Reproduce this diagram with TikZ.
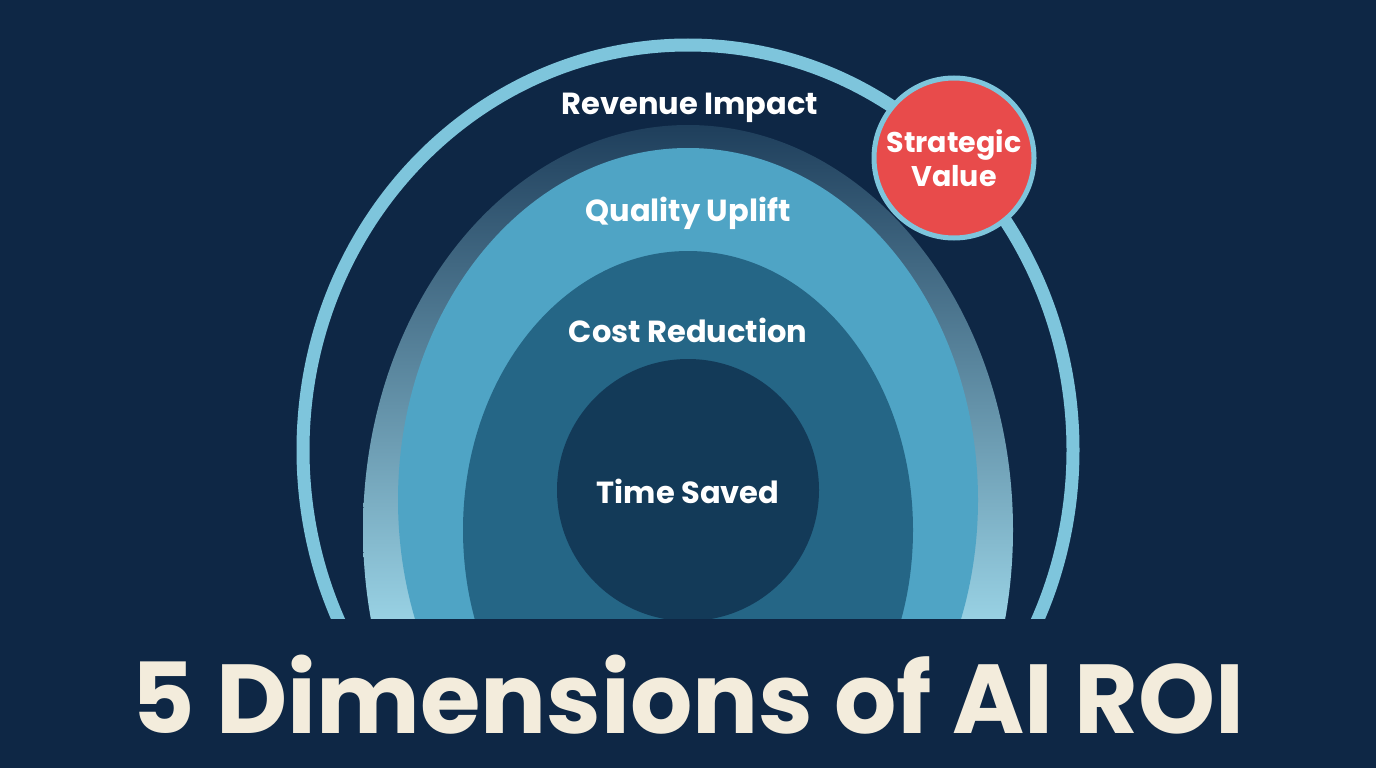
\documentclass[tikz,border=0pt]{standalone}
\usepackage{fontspec}
\setmainfont{Poppins}
\definecolor{navy}{HTML}{0E2745}
\definecolor{ringblue}{HTML}{7EC5DC}
\definecolor{qualblue}{HTML}{4FA4C5}
\definecolor{costblue}{HTML}{256686}
\definecolor{timeblue}{HTML}{133A58}
\definecolor{stratred}{HTML}{E84B4B}
\definecolor{cream}{HTML}{F3ECDC}
\begin{document}
\begin{tikzpicture}
[x=1pt, y=-1pt,
   layerlabel/.style={text=white, font=\bfseries\fontsize{30.5}{34}\selectfont},
   stratC/.style={shape=circle, draw=ringblue, line width=5pt, fill=stratred, minimum size=160pt,
     text=white, align=center, font=\bfseries\fontsize{28.5}{34}\selectfont, inner sep=0pt}]
\fill[navy] (0,0) rectangle (1376,768);
\useasboundingbox (0,0) rectangle (1376,768);
\begin{scope}
\clip (0,0) rectangle (1376,618);
% outer ring
\draw[ringblue, line width=13pt] (688,450) ellipse [x radius=385, y radius=405];
% revenue band
\begin{scope}
\clip (688,530) ellipse [x radius=325, y radius=405];
\shade[top color=navy!85!ringblue, bottom color=ringblue!80!white] (300,125) rectangle (1080,618);
\end{scope}
\fill[qualblue] (688,500) ellipse [x radius=290, y radius=352];
\fill[costblue] (688,530) ellipse [x radius=225, y radius=279];
\fill[timeblue] (688,490) ellipse [x radius=131, y radius=131];
\end{scope}
\node[layerlabel] (rev) at (690,108) {Revenue Impact};
\node[layerlabel] (qual) at (688,213) {Quality Uplift};
\node[layerlabel] (cost) at (688,330) {Cost Reduction};
\node[layerlabel] (time) at (688,491) {Time Saved};
\node[stratC] (strat) at (954,158) {Strategic\\Value};
\node[text=cream, font=\bfseries\fontsize{98}{110}\selectfont] (title) at (688,695) {5 Dimensions of AI ROI};
\end{tikzpicture}
\end{document}
